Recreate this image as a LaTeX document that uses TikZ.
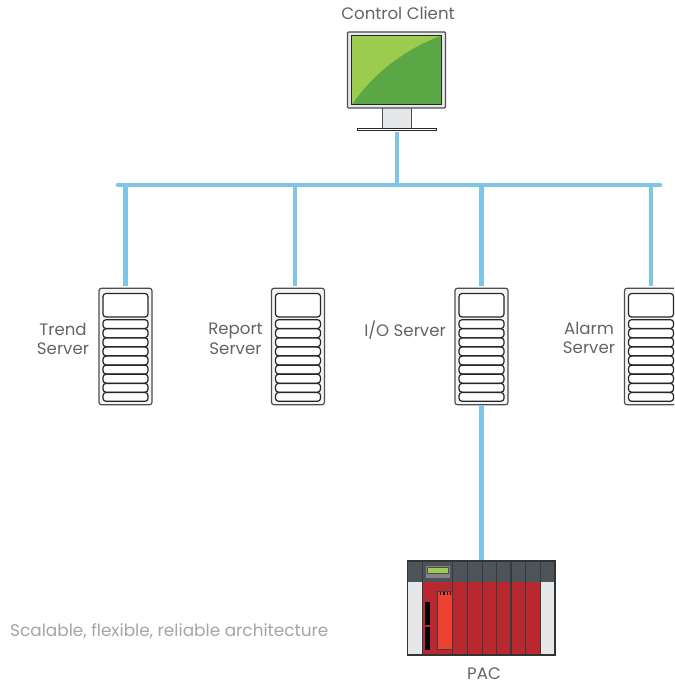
\documentclass[tikz,border=0pt]{standalone}
\usepackage{fontspec}
\usepackage{tikz}
\usetikzlibrary{positioning}
\setmainfont{Poppins}
\definecolor{busblue}{HTML}{7FC6E6}
\definecolor{labelgray}{HTML}{636466}
\definecolor{captiongray}{HTML}{A2A5A8}
\definecolor{casegray}{HTML}{4D4E50}
\definecolor{screenlight}{HTML}{9CCC4E}
\definecolor{screendark}{HTML}{5AA845}
\definecolor{pacdark}{HTML}{4D5459}
\definecolor{pacred}{HTML}{B9282F}
\definecolor{pacorange}{HTML}{EF4130}
\definecolor{paclight}{HTML}{E6E7E8}
\tikzstyle{bus} = [line width=4.6pt,busblue]
\tikzstyle{label} = [text=labelgray,font=\fontsize{16.6}{19.5}\selectfont,align=center,inner sep=0pt]
\tikzstyle{serverbox} = [draw=casegray,fill=paclight!40,line width=1.2pt,rounded corners=2.5pt,minimum width=53pt,minimum height=116.5pt,inner sep=0pt]
\tikzstyle{slot} = [draw=black!85,fill=white,line width=1.2pt,rounded corners=3pt]
\tikzstyle{rack} = [draw=pacdark!70!black,line width=1.1pt]

\begin{document}
\begin{tikzpicture}[x=1pt,y=-1pt]
				\clip (0,0) rectangle (674,684);
				% network
				\coordinate (busleft) at (118,185);
				\coordinate (busright) at (660,185);
				\draw[bus,line cap=round] (busleft)--(busright);
				% servers
				\foreach \name/\cx in {trend/125.5,report/298,io/481.5,alarm/651}{
					\node[serverbox] (\name) at (\cx,346.5) {};
					\draw[slot] (\cx-22.5,293.5) rectangle (\cx+22.5,317);
					\foreach \i in {0,...,8}{
						\draw[slot] (\cx-22.5,319.7+\i*9.1) rectangle (\cx+22.5,328.5+\i*9.1);
					}
				}
				\draw[bus,shorten >=2pt] (trend.north |- busleft)--(trend.north);
				\draw[bus,shorten >=2pt] ([xshift=-3pt]report.north |- busleft)--([xshift=-3pt]report.north);
				\draw[bus,shorten >=2pt] (io.north |- busleft)--(io.north);
				\draw[bus,shorten >=2pt] (alarm.north |- busleft)--(alarm.north);
				% monitor
				\draw[casegray,fill=paclight,line width=1pt] (382.5,108) rectangle (411,128.5);
				\draw[black!85,fill=white,line width=1pt] (357.5,128.5) rectangle (436,130.5);
				\draw[casegray,fill=paclight,line width=1.3pt,rounded corners=1pt] (347.5,32) rectangle (445.5,108);
				\fill[screendark] (351.7,35.5) rectangle (441.5,105);
				\fill[screenlight] (351.7,35.5)--(441.5,35.5) .. controls (410,47) and (375,70) .. (351.7,105)--cycle;
				\draw[black!85,line width=1pt] (351.7,35.5) rectangle (441.5,105);
				\node[inner sep=0pt] (client) at (397,131) {};
				\draw[bus] (client)--(client |- busleft);
				% PAC
				\fill[pacred] (407.5,561) rectangle (555,655);
				\fill[pacdark] (407.5,561) rectangle (555,581.7);
				\fill[paclight] (407.5,581.7) rectangle (422.7,655);
				\fill[paclight] (540.7,581.7) rectangle (555,655);
				\fill[captiongray!80!black] (426,566) rectangle (450,577.7);
				\draw[black!70,fill=screenlight,line width=0.6pt] (427.7,567.3) rectangle (448,573.7);
				\fill[black] (425,602) rectangle (430.3,625);
				\fill[black] (425,627) rectangle (430.3,650);
				\draw[black!75,fill=pacorange,line width=0.8pt] (437.7,591.7) rectangle (452.3,649);
				\foreach \nx in {439.5,443,446.5,449.5}{
					\fill[black] (\nx,591.7) rectangle (\nx+1.7,595);
				}
				\foreach \sx in {422.7,452.3,467.7,482.7,496.7,511,525.7,540.7}{
					\draw[rack] (\sx,561)--(\sx,655);
				}
				\node[draw=black!80,line width=1.2pt,minimum width=147.5pt,minimum height=94pt,inner sep=0pt] (pac) at (481.25,608) {};
				\draw[bus] (io.south)--(io.south |- pac.north);
				% labels
				\node[label] (clientlabel) at (398,13) {Control Client};
				\node[label] (trendlabel) at (63,339) {Trend\\Server};
				\node[label] (reportlabel) at (235.5,339) {Report\\Server};
				\node[label] (iolabel) at (405,330) {I/O Server};
				\node[label] (alarmlabel) at (589,338) {Alarm\\Server};
				\node[label] (paclabel) at (484,674) {PAC};
				\node[label,text=captiongray,anchor=west,font=\fontsize{16.9}{19.5}\selectfont] (caption) at (10,631) {Scalable, flexible, reliable architecture};
			\end{tikzpicture}
\end{document}
